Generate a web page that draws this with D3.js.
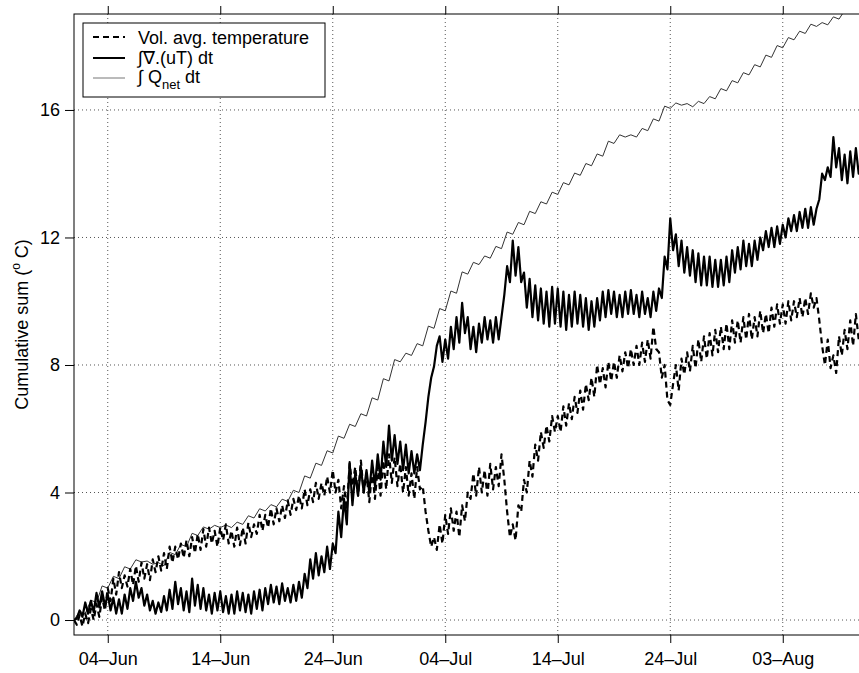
<!DOCTYPE html>
<html>
<head>
<meta charset="utf-8">
<script src="https://cdn.jsdelivr.net/npm/d3@7"></script>
<style>
  body { margin: 0; background: #fff; }
  svg text { font-family: "Liberation Sans", Arial, Helvetica, sans-serif; fill: #000; }
</style>
</head>
<body>
<svg id="chart" width="859" height="673"></svg>
<script>
// time axis: samples from 01-Jun, in days
var start_date = Date.UTC(2007, 5, 1);
var tick_labels = ['04\u2013Jun', '14\u2013Jun', '24\u2013Jun', '04\u2013Jul', '14\u2013Jul', '24\u2013Jul', '03\u2013Aug'];
var tick_days = [3, 13, 23, 33, 43, 53, 63];
var y_ticks = [0, 4, 8, 12, 16];

// Vol. avg. temperature, every 6 h (one group of 4 = one day)
var vol_avg = [
  0, -0.15, 0.15, -0.2,   0.2, -0.1, 0.35, 0.0,   0.5, 0.1, 0.7, 0.3,   1.0, 0.6, 1.3, 0.8,
  1.5, 1.0, 1.4, 1.05,    1.6, 1.1, 1.7, 1.2,     1.8, 1.3, 1.75, 1.25, 1.9, 1.5, 2.0, 1.55,
  2.1, 1.6, 2.3, 1.8,     2.3, 1.9, 2.4, 1.95,    2.5, 2.0, 2.6, 2.1,   2.7, 2.2, 2.85, 2.3,
  2.9, 2.4, 2.8, 2.3,     2.9, 2.5, 3.0, 2.4,     2.8, 2.3, 2.9, 2.35,  2.9, 2.4, 3.05, 2.6,
  3.0, 2.7, 3.3, 2.8,     3.3, 2.9, 3.5, 3.0,     3.5, 3.1, 3.6, 3.2,   3.75, 3.3, 3.8, 3.45,
  3.9, 3.5, 4.1, 3.6,     4.1, 3.7, 4.3, 3.8,     4.3, 3.9, 4.5, 4.0,   4.7, 4.0, 4.4, 3.5,
  4.2, 3.45, 4.9, 4.2,    4.8, 3.9, 5.0, 4.0,     4.6, 3.7, 4.7, 3.8,   4.8, 3.9, 5.0, 4.1,
  5.2, 4.3, 5.1, 4.2,     4.9, 4.0, 4.8, 3.9,     4.6, 3.8, 4.8, 4.1,   4.2, 3.4, 2.8, 2.3,
  2.6, 2.2, 3.0, 2.4,     3.3, 2.7, 3.5, 2.8,     3.4, 2.6, 3.6, 3.1,   4.0, 3.8, 4.6, 3.9,
  4.8, 4.0, 4.7, 3.9,     4.9, 4.1, 4.8, 4.2,     5.2, 4.4, 3.4, 2.6,   3.0, 2.5, 3.6, 3.4,
  4.4, 4.0, 5.0, 4.5,     5.5, 5.0, 5.9, 5.4,     6.1, 5.6, 6.4, 5.9,   6.4, 5.9, 6.7, 6.1,
  6.8, 6.3, 7.0, 6.5,     7.2, 6.6, 7.4, 6.9,     7.6, 7.0, 8.0, 7.4,   7.9, 7.3, 8.1, 7.5,
  8.1, 7.6, 8.3, 7.8,     8.4, 7.9, 8.5, 8.0,     8.6, 8.0, 8.7, 8.1,   8.8, 8.2, 9.2, 8.5,
  8.4, 7.6, 8.0, 6.9,     6.75, 7.4, 8.0, 7.2,    8.2, 7.7, 8.4, 7.8,   8.6, 7.9, 8.8, 8.1,
  8.9, 8.2, 9.0, 8.3,     9.1, 8.4, 9.2, 8.5,     9.3, 8.5, 9.4, 8.7,   9.4, 8.7, 9.5, 8.8,
  9.6, 8.8, 9.5, 8.9,     9.7, 9.0, 9.6, 9.0,     9.8, 9.2, 9.9, 9.3,   9.9, 9.3, 10.0, 9.4,
  10.0, 9.5, 10.1, 9.5,   10.1, 9.6, 10.25, 9.8,  10.1, 9.4, 8.6, 8.0,  8.8, 7.9, 8.3, 7.75,
  8.9, 8.3, 9.1, 8.5,     9.4, 8.6, 9.6, 8.8,     9.3
];

// integral of div(uT), every 6 h
var div_ut = [
  0, 0.05, 0.3, 0.1,      0.55, 0.2, 0.6, 0.25,   0.85, 0.4, 0.9, 0.45,  0.8, 0.3, 0.7, 0.2,
  0.65, 0.2, 0.8, 0.35,   1.0, 0.6, 1.2, 0.7,     1.0, 0.45, 0.8, 0.3,   0.6, 0.2, 0.55, 0.25,
  0.75, 0.3, 0.95, 0.35,  1.2, 0.5, 1.0, 0.3,     0.9, 0.25, 1.3, 0.45,  1.1, 0.35, 1.0, 0.3,
  0.8, 0.2, 0.85, 0.3,    0.9, 0.25, 0.75, 0.2,   0.8, 0.2, 0.9, 0.3,    0.85, 0.25, 0.8, 0.2,
  0.9, 0.35, 0.95, 0.3,   1.0, 0.5, 1.1, 0.55,    1.05, 0.5, 1.15, 0.6,  1.0, 0.55, 1.1, 0.6,
  1.2, 0.7, 1.45, 1.0,    1.9, 1.3, 2.1, 1.4,     2.0, 1.5, 2.3, 1.6,    2.4, 2.1, 3.4, 2.6,
  3.8, 3.0, 4.95, 3.6,    4.6, 3.9, 4.8, 4.0,     4.7, 4.0, 5.0, 4.2,    5.2, 4.4, 5.6, 4.8,
  6.1, 5.0, 5.8, 4.9,     5.6, 4.7, 5.5, 4.6,     5.3, 4.6, 5.2, 4.7,    5.5, 6.2, 7.0, 7.6,
  7.95, 8.6, 8.9, 8.1,    8.8, 8.2, 9.2, 8.5,     9.5, 8.7, 9.95, 9.0,   9.5, 8.5, 9.2, 8.4,
  9.3, 8.7, 9.5, 8.8,     9.4, 8.7, 9.5, 8.8,     9.5, 10.2, 11.1, 10.6, 11.9, 10.8, 11.7, 10.6,
  10.9, 9.8, 10.7, 9.5,   10.5, 9.4, 10.4, 9.3,   10.3, 9.2, 10.45, 9.3, 10.4, 9.2, 10.3, 9.1,
  10.2, 9.2, 10.3, 9.3,   10.2, 9.2, 10.1, 9.1,   10.0, 9.2, 10.1, 9.4,  10.3, 9.5, 10.35, 9.6,
  10.3, 9.5, 10.2, 9.5,   10.3, 9.6, 10.35, 9.6,  10.2, 9.5, 10.3, 9.6,  10.1, 9.5, 10.3, 9.7,
  10.4, 10.1, 11.4, 11.0, 12.6, 11.6, 12.1, 11.1, 11.9, 10.9, 11.7, 10.8, 11.6, 10.6, 11.5, 10.5,
  11.4, 10.5, 11.4, 10.45, 11.3, 10.45, 11.3, 10.5, 11.4, 10.6, 11.6, 10.9, 11.7, 11.0, 11.9, 11.1,
  11.8, 11.1, 11.9, 11.3, 12.0, 11.6, 12.2, 11.7, 12.3, 11.7, 12.35, 11.8, 12.4, 12.0, 12.6, 12.2,
  12.7, 12.2, 12.8, 12.3, 12.9, 12.3, 12.95, 12.4, 12.9, 13.2, 14.0, 13.8, 14.2, 13.9, 15.15, 14.2,
  14.8, 13.8, 14.6, 13.7, 14.7, 13.9, 14.8, 14.0, 14.5
];

// integral of Q_net, every 12 h (morning, evening)
var q_net = [
  0, 0.27,      0.2, 0.62,    0.55, 1.07,   1.0, 1.37,    1.3, 1.67,    1.6, 1.89,    1.82, 1.85,
  1.75, 1.8,    1.7, 2.12,    2.05, 2.37,   2.3, 2.72,    2.65, 2.92,   2.85, 2.97,   2.9, 2.98,
  2.9, 3.07,    3.0, 3.27,    3.2, 3.49,    3.42, 3.62,   3.55, 3.79,   3.72, 4.07,   4.0, 4.52,
  4.45, 4.92,   4.85, 5.31,   5.24, 5.77,   5.7, 6.14,    6.07, 6.47,   6.4, 6.97,    6.9, 7.57,
  7.5, 8.17,    8.1, 8.37,    8.3, 8.67,    8.6, 9.22,    9.15, 9.77,   9.7, 10.32,   10.25, 10.92,
  10.85, 11.22, 11.15, 11.42, 11.35, 11.72, 11.65, 12.17, 12.1, 12.47,  12.4, 12.82,  12.75, 13.12,
  13.05, 13.42, 13.35, 13.72, 13.65, 14.02, 13.95, 14.32, 14.25, 14.62, 14.55, 15.02, 14.95, 15.22,
  15.15, 15.22, 15.15, 15.42, 15.35, 15.72, 15.65, 16.12, 16.05, 16.22, 16.15, 16.2,  16.1, 16.27,
  16.2, 16.42,  16.35, 16.67, 16.6, 16.92,  16.85, 17.17, 17.1, 17.42,  17.35, 17.72, 17.65, 18.02,
  17.95, 18.27, 18.2, 18.47,  18.4, 18.69,  18.62, 18.74, 18.67, 18.92, 18.85, 19.12, 19.05, 19.22,
  19.15
];

var svg = d3.select('#chart');
var margin = {left: 74, right: 861.5, top: 14, bottom: 635};
var font_size = '18px';

var x_scale = d3.scaleUtc()
  .domain([new Date(start_date), new Date(start_date + 70 * 864e5)])
  .range([margin.left, margin.right]);
var y_scale = d3.scaleLinear()
  .domain([-0.47, 19.01])
  .range([margin.bottom, margin.top]);

function day_date(d) { return new Date(start_date + d * 864e5); }

// clip for the plot area
svg.append('defs').append('clipPath').attr('id', 'plot_clip')
  .append('rect')
  .attr('x', margin.left).attr('y', margin.top)
  .attr('width', margin.right - margin.left)
  .attr('height', margin.bottom - margin.top);

// dotted grid
var grid = svg.append('g').attr('class', 'grid')
  .attr('stroke', '#555').attr('stroke-width', 1).attr('stroke-dasharray', '1,3');
grid.selectAll('.vgrid').data(tick_days).enter().append('line')
  .attr('x1', function(d){ return x_scale(day_date(d)); })
  .attr('x2', function(d){ return x_scale(day_date(d)); })
  .attr('y1', margin.top).attr('y2', margin.bottom);
grid.selectAll('.hgrid').data(y_ticks).enter().append('line')
  .attr('x1', margin.left).attr('x2', margin.right)
  .attr('y1', function(d){ return y_scale(d); })
  .attr('y2', function(d){ return y_scale(d); });

// lines
var plot = svg.append('g').attr('clip-path', 'url(#plot_clip)');

function make_line(step) {
  return d3.line()
    .x(function(d, i){ return x_scale(day_date(i * step)); })
    .y(function(d){ return y_scale(d); });
}

plot.append('path').datum(q_net)
  .attr('d', make_line(0.5))
  .attr('fill', 'none').attr('stroke', '#333').attr('stroke-width', 1);

plot.append('path').datum(vol_avg)
  .attr('d', make_line(0.25))
  .attr('fill', 'none').attr('stroke', '#000').attr('stroke-width', 2.2)
  .attr('stroke-dasharray', '6,4').attr('stroke-linejoin', 'round');

plot.append('path').datum(div_ut)
  .attr('d', make_line(0.25))
  .attr('fill', 'none').attr('stroke', '#000').attr('stroke-width', 2.2)
  .attr('stroke-linejoin', 'round');

// axes (outward ticks, all four sides)
var x_axis = d3.axisBottom(x_scale)
  .tickValues(tick_days.map(day_date))
  .tickFormat(function(d, i){ return tick_labels[i]; })
  .tickSize(8).tickPadding(9);
var x_axis_top = d3.axisTop(x_scale)
  .tickValues(tick_days.map(day_date)).tickFormat('').tickSize(8);
var y_axis = d3.axisLeft(y_scale)
  .tickValues(y_ticks).tickSize(9).tickPadding(5);

svg.append('g').attr('class', 'x_axis')
  .attr('transform', 'translate(0,' + margin.bottom + ')')
  .call(x_axis);
svg.append('g').attr('class', 'x_axis_top')
  .attr('transform', 'translate(0,' + margin.top + ')')
  .call(x_axis_top);
svg.append('g').attr('class', 'y_axis')
  .attr('transform', 'translate(' + margin.left + ',0)')
  .call(y_axis);

svg.selectAll('.domain').remove();
svg.selectAll('.tick line').attr('stroke', '#000').attr('stroke-width', 1);
svg.selectAll('.tick text').style('font-size', font_size).attr('fill', '#000');

// frame
svg.append('rect')
  .attr('x', margin.left).attr('y', margin.top)
  .attr('width', margin.right - margin.left)
  .attr('height', margin.bottom - margin.top)
  .attr('fill', 'none').attr('stroke', '#000').attr('stroke-width', 1);

// y label
var y_label = svg.append('text')
  .attr('transform', 'translate(28,' + ((margin.top + margin.bottom) / 2) + ') rotate(-90)')
  .attr('text-anchor', 'middle')
  .style('font-size', font_size);
y_label.append('tspan').text('Cumulative sum (');
y_label.append('tspan').attr('dy', -8).style('font-size', '12px').text('o');
y_label.append('tspan').attr('dy', 8).text(' C)');

// legend
var legend = svg.append('g').attr('class', 'legend');
legend.append('rect')
  .attr('x', 83).attr('y', 23).attr('width', 242).attr('height', 74)
  .attr('fill', '#fff').attr('stroke', '#000').attr('stroke-width', 1);

var legend_rows = [
  {y: 37, dash: '6,4', color: '#000', width: 2},
  {y: 58, dash: null, color: '#000', width: 2},
  {y: 78, dash: null, color: '#777', width: 1}
];
legend.selectAll('.legend_line').data(legend_rows).enter().append('line')
  .attr('x1', 93).attr('x2', 125)
  .attr('y1', function(d){ return d.y; }).attr('y2', function(d){ return d.y; })
  .attr('stroke', function(d){ return d.color; })
  .attr('stroke-width', function(d){ return d.width; })
  .attr('stroke-dasharray', function(d){ return d.dash; });

legend.append('text').attr('x', 138).attr('y', 44).style('font-size', font_size)
  .text('Vol. avg. temperature');
legend.append('text').attr('x', 138).attr('y', 64).style('font-size', font_size)
  .text('\u222B\u2207.(uT) dt');
var q_text = legend.append('text').attr('x', 138).attr('y', 83).style('font-size', font_size);
q_text.append('tspan').text('\u222B Q');
q_text.append('tspan').attr('dy', 6).style('font-size', '13px').text('net');
q_text.append('tspan').attr('dy', -6).text(' dt');
</script>
</body>
</html>
